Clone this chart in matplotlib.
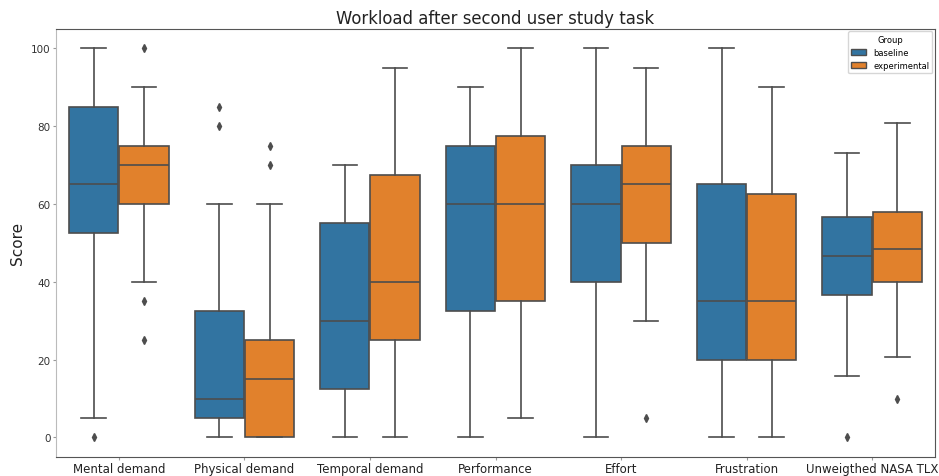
import matplotlib
matplotlib.use("Agg")
import matplotlib.pyplot as plt
from matplotlib.patches import Patch
import numpy as np

categories = ["Mental demand", "Physical demand", "Temporal demand", "Performance",
              "Effort", "Frustration", "Unweigthed NASA TLX"]
groups = ["baseline", "experimental"]
colors = {"baseline": "#3274a1", "experimental": "#e1812c"}

# five-number summaries per category: (whislo, q1, median, q3, whishi)
baseline_stats = [
    (5, 52.5, 65, 85, 100),
    (0, 5, 10, 32.5, 60),
    (0, 12.5, 30, 55, 70),
    (0, 32.5, 60, 75, 90),
    (0, 40, 60, 70, 100),
    (0, 20, 35, 65, 100),
    (15.8, 36.6, 46.7, 56.6, 73.2),
]
experimental_stats = [
    (40, 60, 70, 75, 90),
    (0, 0, 15, 25, 60),
    (0, 25, 40, 67.5, 95),
    (5, 35, 60, 77.5, 100),
    (30, 50, 65, 75, 95),
    (0, 20, 35, 62.5, 90),
    (20.8, 40, 48.3, 58, 80.7),
]
baseline_fliers = [[0], [80, 85], [], [], [], [], [0]]
experimental_fliers = [[100, 35, 25], [70, 75], [], [], [5], [], [9.8]]

line_c = "#4d4d4d"
fig, ax = plt.subplots(figsize=(9.39, 4.77), dpi=100)
fig.subplots_adjust(left=0.0597, right=0.9957, top=0.9375, bottom=0.04)

n_hue = len(groups)
width = 0.8
box_w = width / n_hue * 0.98
for gi, (g, stats, fl) in enumerate([("baseline", baseline_stats, baseline_fliers),
                                      ("experimental", experimental_stats, experimental_fliers)]):
    offset = -width / 2 + width / n_hue * (gi + 0.5)
    bstats = []
    for (lo, q1, med, q3, hi), f in zip(stats, fl):
        bstats.append(dict(whislo=lo, q1=q1, med=med, q3=q3, whishi=hi, fliers=f))
    pos = np.arange(len(categories)) + offset
    ax.bxp(bstats, positions=pos, widths=box_w, patch_artist=True, showfliers=True,
           boxprops=dict(facecolor=colors[g], edgecolor=line_c, linewidth=1.2),
           medianprops=dict(color=line_c, linewidth=1.2),
           whiskerprops=dict(color=line_c, linewidth=1.2),
           capprops=dict(color=line_c, linewidth=1.2),
           flierprops=dict(marker="d", markerfacecolor=line_c, markeredgecolor=line_c,
                           markersize=4, linestyle="none"),
           manage_ticks=False)

ax.set_xticks(np.arange(len(categories)))
ax.set_xticklabels(categories, fontsize=8.5, color="#222222")
ax.set_xlim(-0.5, len(categories) - 0.5)
ax.set_ylim(-5, 105)
ax.set_yticks([0, 20, 40, 60, 80, 100])
ax.tick_params(axis="y", labelsize=7.5, labelcolor="#333333", colors="#999999",
               length=2, pad=2)
ax.tick_params(axis="x", colors="#999999", labelcolor="#222222", length=2, pad=2)
for s in ax.spines.values():
    s.set_color("#555555")
ax.spines["left"].set_color("#bbbbbb")
ax.set_ylabel("Score", fontsize=11, color="#222222", labelpad=4)
ax.set_title("Workload after second user study task", fontsize=11.9, color="#222222", pad=4)

handles = [Patch(facecolor=colors[g], edgecolor=line_c, label=g) for g in groups]
ax.legend(handles=handles, title="Group", loc="upper right", fontsize=6, title_fontsize=6,
          handlelength=1.8, borderaxespad=0.3)

fig.savefig("out.png", dpi=100)
